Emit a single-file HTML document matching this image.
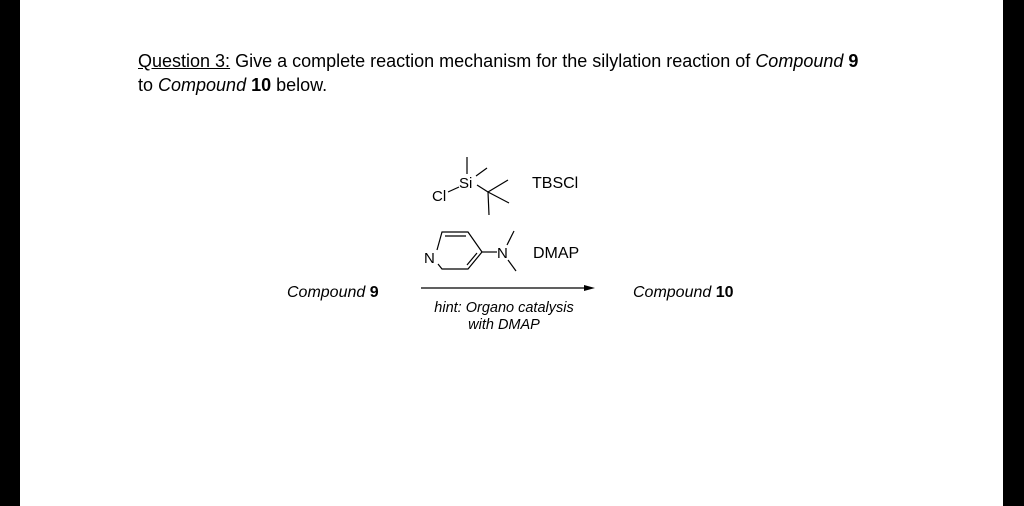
<!DOCTYPE html>
<html><head><meta charset="utf-8"><style>
body{margin:0;width:1024px;height:506px;background:#fff;position:relative;overflow:hidden;font-family:"Liberation Sans",Arial,sans-serif;}
.bar{position:absolute;top:0;height:506px;background:#000}
.t{position:absolute;font-size:18px;color:#000;white-space:nowrap;line-height:1}
</style></head><body>
<div class="bar" style="left:0;width:20px"></div>
<div class="bar" style="left:1003px;width:21px"></div>
<div class="t" style="left:138px;top:52px"><u>Question 3:</u> Give a complete reaction mechanism for the silylation reaction of <i>Compound</i> <b>9</b></div>
<div class="t" style="left:138px;top:76px">to <i>Compound</i> <b>10</b> below.</div>
<svg width="1024" height="506" style="position:absolute;left:0;top:0" font-family="Liberation Sans, Arial, sans-serif">
<g stroke="#000" stroke-width="1.2" fill="none">
<line x1="467" y1="157" x2="467" y2="174"/>
<line x1="476" y1="176" x2="487" y2="168"/>
<line x1="477" y1="185" x2="488" y2="192"/>
<line x1="488" y1="192" x2="508" y2="180"/>
<line x1="488" y1="192" x2="509" y2="203"/>
<line x1="488" y1="192" x2="489" y2="215"/>
<line x1="448" y1="192" x2="459" y2="187"/>
<polyline points="437,250 442,232 468,232 482,252 468,269 442,269 438,264"/>
<line x1="445" y1="236" x2="466" y2="236"/>
<line x1="467" y1="265" x2="477" y2="253"/>
<line x1="482" y1="252" x2="497" y2="252"/>
<line x1="507" y1="245" x2="514" y2="231"/>
<line x1="508" y1="260" x2="516" y2="271"/>
<line x1="421" y1="288" x2="588" y2="288"/>
</g>
<polygon points="595,288 584,285 584,291" fill="#000"/>
<g font-size="16" fill="#000">
<text x="459" y="188" font-size="15">Si</text>
<text x="432" y="201" font-size="15">Cl</text>
<text x="424" y="263" font-size="15">N</text>
<text x="497" y="258" font-size="15">N</text>
<text x="532" y="188">TBSCl</text>
<text x="533" y="258">DMAP</text>
<text x="287" y="297" font-style="italic">Compound <tspan font-weight="bold" font-style="normal">9</tspan></text>
<text x="633" y="297" font-style="italic">Compound <tspan font-weight="bold" font-style="normal">10</tspan></text>
<text x="504" y="312" font-size="14.5" font-style="italic" text-anchor="middle">hint: Organo catalysis</text>
<text x="504" y="329" font-size="14.5" font-style="italic" text-anchor="middle">with DMAP</text>
</g>
</svg>
</body></html>
